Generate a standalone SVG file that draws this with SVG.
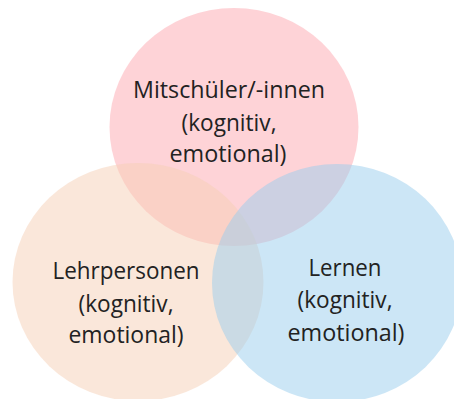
<svg xmlns="http://www.w3.org/2000/svg" width="454" height="399" viewBox="0 0 454 399">
<style>
.c{stroke:none}
.t{font-family:"Open Sans","Liberation Sans",sans-serif;font-size:23px;fill:#222222;text-anchor:middle}
</style>
<rect width="454" height="399" fill="#ffffff"/>
<g id="circle-mitschueler"><ellipse class="c" cx="234" cy="127" rx="124.5" ry="119" fill="#FDA8B0" fill-opacity="0.5"/></g>
<g id="circle-lehrpersonen"><ellipse class="c" cx="138" cy="282" rx="125.5" ry="119" fill="#F6D0B6" fill-opacity="0.5"/></g>
<g id="circle-lernen"><ellipse class="c" cx="337" cy="283" rx="125" ry="119" fill="#99CEEE" fill-opacity="0.5"/></g>
<g id="labels">
<g id="label-mitschueler">
<text class="t" x="229" y="98" textLength="192" lengthAdjust="spacingAndGlyphs">Mitschüler/-innen</text>
<text class="t" x="229" y="131" textLength="95" lengthAdjust="spacingAndGlyphs">(kognitiv,</text>
<text class="t" x="228" y="162" textLength="117" lengthAdjust="spacingAndGlyphs">emotional)</text>
</g>
<g id="label-lehrpersonen">
<text class="t" x="126" y="279" textLength="147" lengthAdjust="spacingAndGlyphs">Lehrpersonen</text>
<text class="t" x="126" y="312" textLength="95" lengthAdjust="spacingAndGlyphs">(kognitiv,</text>
<text class="t" x="126" y="343" textLength="115" lengthAdjust="spacingAndGlyphs">emotional)</text>
</g>
<g id="label-lernen">
<text class="t" x="345" y="276" textLength="73" lengthAdjust="spacingAndGlyphs">Lernen</text>
<text class="t" x="345" y="308" textLength="95" lengthAdjust="spacingAndGlyphs">(kognitiv,</text>
<text class="t" x="346" y="341" textLength="117" lengthAdjust="spacingAndGlyphs">emotional)</text>
</g>
</g>
</svg>
